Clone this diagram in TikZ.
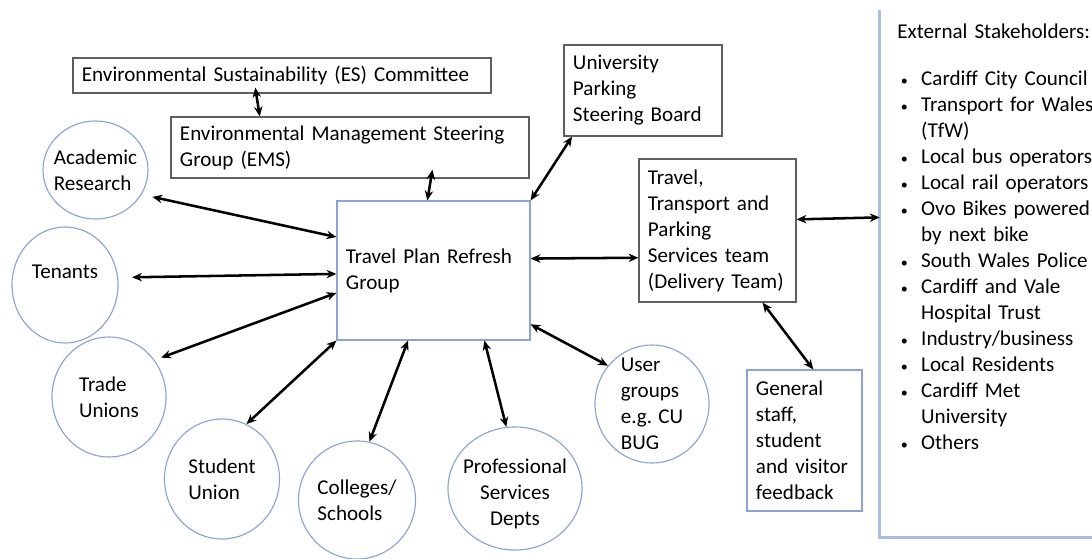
\documentclass[tikz,border=0pt]{standalone}
\usepackage{fontspec}
\setmainfont{Carlito}
\usepackage{tikz}
\usetikzlibrary{shapes.geometric,arrows.meta}
\definecolor{boxgray}{RGB}{95,95,95}
\definecolor{ringblue}{RGB}{135,163,217}
\definecolor{edgeblue}{RGB}{170,190,228}
\tikzstyle{graybox}=[rectangle,draw=boxgray,line width=0.8pt,fill=white,
                     align=left,inner xsep=0.225cm,inner ysep=0pt]
\tikzstyle{bluebox}=[graybox,draw=ringblue]
\tikzstyle{ring}=[ellipse,draw=ringblue,line width=0.8pt,inner sep=0pt]
\tikzstyle{ringtext}=[align=left,inner sep=0pt]
\tikzstyle{link}=[{Stealth[length=7pt,width=6pt]}-{Stealth[length=7pt,width=6pt]},
                  line width=1.8pt]
\newcommand\pxu{0.025cm}
\newcommand\stakeitem[1]{\hspace*{2.5pt}\makebox[14.5pt][l]{\fontsize{10}{10}\selectfont •}#1}
\newcommand\stakecont[1]{\hspace*{17pt}#1}

\begin{document}
\begin{tikzpicture}[x=\pxu,y=-\pxu,font=\fontsize{15}{18.5}\selectfont]
	\useasboundingbox (0,0) rectangle (1092,559);
	\node [graybox,minimum width=10.45cm,minimum height=0.875cm,text width=10cm] (ES) at (282,75.5) {
		Environmental Sustainability (ES) Committee
	};
	\node [graybox,minimum width=8.95cm,minimum height=1.525cm,text width=8.5cm] (EMS) at (350,147.5) {
		Environmental Management Steering\\Group (EMS)
	};
	\node [graybox,minimum width=3.95cm,minimum height=2.275cm,text width=3.5cm] (UPSB) at (643,90.5) {
		University\\Parking\\Steering Board
	};
	\node [bluebox,minimum width=4.825cm,minimum height=3.475cm,text width=4.375cm] (TPRG) at (433.5,270.5) {
		Travel Plan Refresh\\Group
	};
	\node [graybox,minimum width=3.925cm,minimum height=3.575cm,text width=3.475cm] (TTPS) at (717.5,230.5) {
		Travel,\\Transport and\\Parking\\Services team\\(Delivery Team)
	};
	\node [bluebox,minimum width=2.875cm,minimum height=3.525cm,text width=2.425cm] (GEN) at (804.5,440.5) {
		General\\staff,\\student\\and visitor\\feedback
	};
	\node [rectangle,minimum width=6cm,minimum height=13.175cm] (EXT) at (1000,273.5) {};
	\draw [draw=edgeblue,line width=1.8pt] (EXT.north west) |- (EXT.south east);
	\node [ringtext,anchor=base west,text width=6cm] (EXTLIST) at (897,38) {
		External Stakeholders:\\[15pt]
		\stakeitem{Cardiff City Council}\\
		\stakeitem{Transport for Wales}\\
		\stakecont{(TfW)}\\
		\stakeitem{Local bus operators}\\
		\stakeitem{Local rail operators}\\
		\stakeitem{Ovo Bikes powered}\\
		\stakecont{by next bike}\\
		\stakeitem{South Wales Police}\\
		\stakeitem{Cardiff and Vale}\\
		\stakecont{Hospital Trust}\\
		\stakeitem{Industry/business}\\
		\stakeitem{Local Residents}\\
		\stakeitem{Cardiff Met}\\
		\stakecont{University}\\
		\stakeitem{Others}
	};
	\node [ring,minimum width=2.625cm,minimum height=2.45cm,
		label={[ringtext]center:{Academic\\Research}}] (ACAD) at (95.5,170) {};
	\node [ring,minimum width=2.65cm,minimum height=2.9cm,
		label={[ringtext]center:{Tenants\\\mbox{}}}] (TEN) at (65,285) {};
	\node [ring,minimum width=2.85cm,minimum height=3cm,
		label={[ringtext]center:{Trade\\Unions}}] (TRADE) at (109,397) {};
	\node [ring,minimum width=2.875cm,minimum height=3cm,
		label={[ringtext]center:{Student\\Union}}] (STUD) at (222,479) {};
	\node [ring,minimum width=2.925cm,minimum height=2.95cm,
		label={[ringtext]center:{Colleges/\\Schools}}] (COLL) at (357,500) {};
	\node [ring,minimum width=3.35cm,minimum height=3.075cm,
		label={[ringtext,align=center]center:{\mbox{}\\Professional\\Services\\Depts}}] (PROF) at (515,488.5) {};
	\node [ring,minimum width=2.85cm,minimum height=2.95cm,
		label={[ringtext]center:{User\\groups\\e.g. CU\\BUG}}] (USER) at (652,404) {};

	\draw [link,shorten <=-0.15cm] (ES.215) -- (EMS.161.8);
	\draw [link,shorten <=-0.225cm] (EMS.-21.6) -- (TPRG.95.3);
	\draw [link] (TPRG.north east) -- (UPSB.213.8);
	\draw [link] (TPRG.7.4) -- (TTPS.199.3);
	\draw [link] (TTPS.8.3) -- (EXT.155.6);
	\draw [link] (TTPS.-58.1) -- (GEN.83.9);
	\draw [link,shorten >=0.275cm] (TPRG.161.4) -- (ACAD.-28);
	\draw [link,shorten >=0.35cm] (TPRG.182.7) -- (TEN.8.5);
	\draw [link,shorten >=0.175cm] (TPRG.193.1) -- (TRADE.39.5);
	\draw [link] (TPRG.south west) -- (STUD.66.2);
	\draw [link] (TPRG.250.6) -- (COLL.78.5);
	\draw [link] (TPRG.-54.5) -- (PROF.98.7);
	\draw [link] (TPRG.-29.5) -- (USER.139.8);
\end{tikzpicture}
\end{document}
